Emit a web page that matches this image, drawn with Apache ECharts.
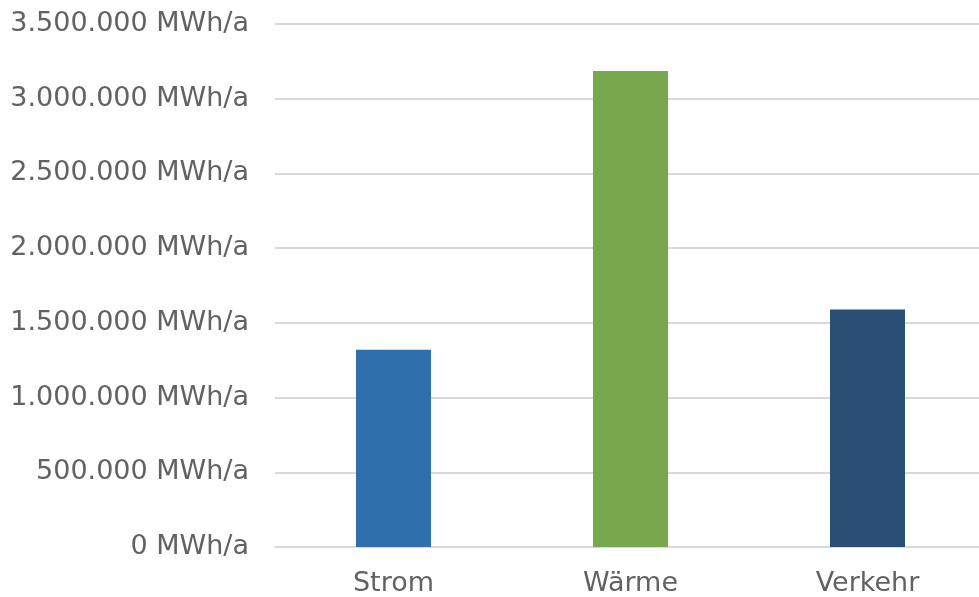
<!DOCTYPE html>
<html>
<head>
<meta charset="utf-8">
<script src="https://cdn.jsdelivr.net/npm/echarts@6/dist/echarts.min.js"></script>
<style>
  html, body { margin: 0; padding: 0; background: #ffffff; overflow: hidden; width: 979px; height: 597px; }
  /* the plot runs a few pixels past the right edge of the page */
  #chart { width: 986px; height: 597px; }
</style>
</head>
<body>
<div id="chart"></div>
<script>
// Energiebedarf nach Sektor
const categories = ['Strom', 'Wärme', 'Verkehr'];
const values = [1320000, 3185000, 1590000];
const barColors = ['#2E6FAC', '#78A84E', '#2B4F74'];

const axisMin = 0;
const axisMax = 3500000;
const axisStep = 500000;

const fmt = v => {
  const s = String(Math.round(v)).replace(/\B(?=(\d{3})+(?!\d))/g, '.');
  return s + ' MWh/a';
};

const chart = echarts.init(document.getElementById('chart'), null, { renderer: 'canvas' });
chart.setOption({
  animation: false,
  backgroundColor: '#ffffff',
  grid: { left: 275, right: 0, top: 24, bottom: 46, containLabel: false },
  xAxis: {
    type: 'category',
    data: categories,
    axisLine: { show: true, lineStyle: { color: '#d9d9d9', width: 2 } },
    axisTick: { show: false },
    axisLabel: {
      color: '#626262',
      fontFamily: 'DejaVu Sans',
      fontSize: 27,
      margin: 23
    }
  },
  yAxis: {
    type: 'value',
    min: axisMin,
    max: axisMax,
    interval: axisStep,
    axisLine: { show: false },
    axisTick: { show: false },
    splitLine: { lineStyle: { color: '#d9d9d9', width: 2 } },
    axisLabel: {
      color: '#626262',
      fontFamily: 'DejaVu Sans',
      fontSize: 27,
      margin: 26,
      formatter: fmt
    }
  },
  series: [{
    type: 'bar',
    barWidth: 75,
    data: values.map((v, i) => ({ value: v, itemStyle: { color: barColors[i] } }))
  }]
});
</script>
</body>
</html>
